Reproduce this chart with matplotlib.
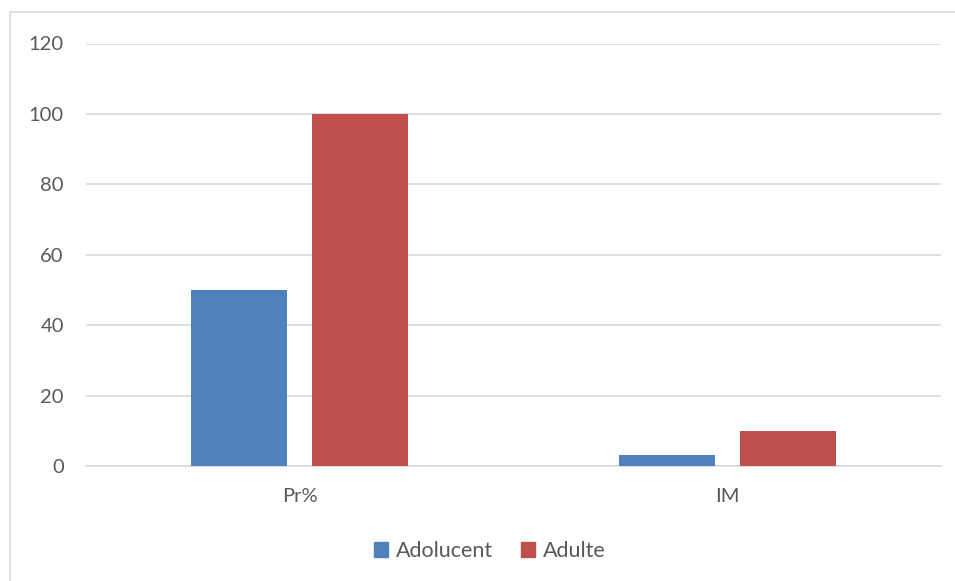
import numpy as np
import matplotlib as mpl
from matplotlib import pyplot as plt
from matplotlib.patches import Rectangle, Patch

categories = ['Pr%', 'IM']
adolucent = [50, 3]
adulte = [100, 10]
yticks = [0, 20, 40, 60, 80, 100, 120]

pColors = {'blue': '#4F81BD', 'red': '#C0504D', 'text': '#595959', 'grid': '#D9D9D9'}

mpl.rc('font', **{'family': ['Lato', 'DejaVu Sans'], 'size': 14})

f = plt.figure(figsize = (9.55, 5.81), dpi = 100)
ax1 = f.add_axes([86 / 955, 115 / 581, 855 / 955, 422.5 / 581])

# outer chart border (cropped at right and bottom)
f.patches.append(Rectangle((9.5 / 955, -0.1), 1.2, (581 - 12) / 581 + 0.1,
                           transform = f.transFigure, fill = False,
                           edgecolor = pColors['grid'], lw = 1.2))

x = np.arange(len(categories))
barWidth = 0.225
offset = 0.1417

ax1.bar(x - offset, adolucent, barWidth, color = pColors['blue'], zorder = 3,
        label = 'Adolucent')
ax1.bar(x + offset, adulte, barWidth, color = pColors['red'], zorder = 3,
        label = 'Adulte')

ax1.set_xlim(-0.5, 1.5)
ax1.set_ylim(0, 120)
ax1.set_yticks(yticks)
ax1.set_xticks(x)
ax1.set_xticklabels(categories)

for s in ['top', 'right', 'left']:
    ax1.spines[s].set_visible(False)
ax1.spines['bottom'].set_color(pColors['grid'])
ax1.spines['bottom'].set_linewidth(1.2)

ax1.yaxis.grid(True, color = pColors['grid'], lw = 1.2, zorder = 0)
ax1.set_axisbelow(True)
ax1.tick_params('both', length = 0, colors = pColors['text'], labelsize = 14.5)
ax1.tick_params(axis = 'y', pad = 16)
ax1.tick_params(axis = 'x', pad = 16)

handles = [Patch(color = pColors['blue'], label = 'Adolucent'),
           Patch(color = pColors['red'], label = 'Adulte')]
leg = f.legend(handles = handles, loc = 'center', bbox_to_anchor = (0.513, 1 - 551 / 581),
               ncol = 2, frameon = False, handlelength = 0.65, handleheight = 0.65,
               handletextpad = 0.35, columnspacing = 1.3, fontsize = 15.5)
for t in leg.get_texts():
    t.set_color(pColors['text'])

f.savefig('out.png', dpi = 100)
plt.close()
